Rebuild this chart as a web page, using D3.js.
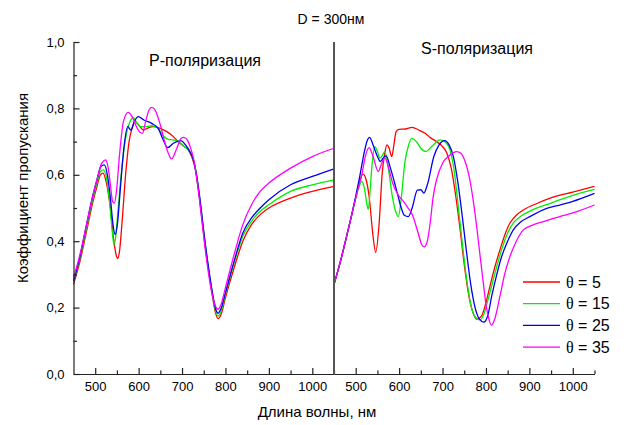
<!DOCTYPE html>
<html>
<head>
<meta charset="utf-8">
<script src="https://cdn.jsdelivr.net/npm/d3@7"></script>
<style>
  body { margin: 0; background: #fff; }
  text { font-family: "Liberation Sans", Arial, sans-serif; fill: #000; }
</style>
</head>
<body>
<div id="chart"></div>
<script>
// ---- Daten (λ in nm, Koeffizient) ----
const angles = [5, 15, 25, 35];
const colors = ["#ff0000", "#00ee00", "#0000ee", "#ff00ff"];
const xMajor = [500, 600, 700, 800, 900, 1000];
const xMinor = [550, 650, 750, 850, 950, 1050];
const yMajor = [0, 0.2, 0.4, 0.6, 0.8, 1.0];
const yMinor = [0.1, 0.3, 0.5, 0.7, 0.9];

// P-Polarisation
const pRed = [[450,.27],[465,.34],[480,.43],[495,.52],[505,.57],[512,.60],[518,.605],[525,.58],[535,.50],[543,.40],[548,.36],[552,.348],[556,.37],[562,.46],[570,.60],[578,.70],[585,.74],[592,.76],[600,.75],[611,.735],[620,.74],[634,.745],[650,.74],[665,.73],[680,.715],[691,.70],[705,.685],[714,.675],[722,.655],[730,.62],[740,.53],[750,.42],[760,.32],[770,.235],[777,.185],[783,.167],[790,.18],[800,.23],[820,.32],[840,.40],[860,.45],[880,.48],[900,.50],[950,.53],[1000,.55],[1050,.565]];
const pGreen = [[450,.28],[465,.35],[480,.44],[495,.53],[505,.58],[512,.61],[519,.615],[526,.59],[533,.52],[540,.42],[543,.39],[547,.41],[553,.50],[562,.63],[570,.71],[580,.76],[588,.772],[596,.755],[605,.745],[618,.745],[630,.748],[645,.74],[655,.72],[668,.707],[680,.705],[692,.70],[705,.685],[715,.675],[722,.66],[730,.625],[740,.535],[750,.425],[760,.325],[770,.24],[777,.19],[783,.175],[790,.19],[800,.24],[820,.335],[840,.415],[860,.46],[880,.49],[900,.51],[950,.55],[1000,.57],[1050,.585]];
const pBlue = [[450,.28],[465,.355],[480,.45],[495,.54],[505,.59],[513,.625],[521,.63],[528,.60],[535,.53],[541,.45],[546,.42],[551,.45],[558,.56],[566,.68],[575,.745],[582,.735],[590,.76],[599,.775],[612,.765],[630,.755],[645,.74],[655,.71],[667,.682],[680,.695],[697,.703],[708,.69],[718,.67],[725,.65],[732,.61],[742,.52],[750,.43],[760,.33],[770,.245],[777,.198],[783,.183],[790,.198],[800,.245],[820,.34],[840,.425],[860,.47],[880,.50],[900,.525],[950,.57],[1000,.595],[1050,.618]];
const pMagenta = [[450,.29],[465,.36],[480,.45],[495,.54],[505,.59],[515,.635],[524,.645],[530,.62],[535,.57],[540,.52],[544,.515],[549,.55],[556,.66],[565,.76],[576,.788],[585,.775],[595,.745],[603,.728],[609,.725],[616,.76],[624,.795],[630,.803],[638,.795],[650,.75],[662,.69],[676,.648],[688,.68],[698,.71],[704,.713],[712,.705],[720,.68],[728,.64],[735,.58],[745,.47],[755,.36],[765,.27],[773,.22],[783,.195],[790,.21],[800,.26],[820,.36],[840,.45],[860,.51],[880,.55],[900,.575],[950,.62],[1000,.655],[1050,.68]];

// S-Polarisation
const sRed = [[450,.27],[465,.34],[480,.42],[490,.475],[500,.53],[510,.585],[517,.602],[524,.585],[531,.534],[540,.414],[546,.366],[554,.454],[561,.604],[567,.665],[572,.69],[577,.68],[583,.655],[588,.69],[593,.73],[600,.737],[615,.738],[630,.743],[645,.735],[660,.725],[672,.712],[686,.70],[700,.685],[710,.665],[720,.62],[730,.54],[740,.44],[750,.33],[760,.24],[770,.185],[779,.165],[790,.175],[800,.215],[809,.263],[820,.32],[832,.373],[845,.425],[855,.454],[870,.478],[886,.494],[920,.515],[960,.535],[1000,.548],[1050,.565]];
const sGreen = [[450,.27],[465,.34],[480,.42],[490,.475],[500,.53],[508,.565],[514,.58],[520,.56],[526,.51],[529,.496],[533,.55],[537,.62],[544,.685],[550,.67],[556,.65],[562,.66],[567,.67],[575,.62],[585,.53],[592,.49],[598,.474],[605,.53],[613,.635],[622,.69],[629,.71],[640,.70],[650,.68],[662,.67],[675,.685],[694,.705],[705,.70],[717,.675],[727,.61],[735,.52],[745,.40],[755,.29],[765,.21],[775,.172],[786,.163],[795,.18],[805,.225],[820,.30],[835,.37],[850,.425],[865,.458],[880,.475],[900,.49],[950,.515],[1000,.538],[1050,.556]];
const sBlue = [[450,.27],[465,.34],[480,.42],[490,.475],[500,.535],[510,.60],[520,.67],[527,.705],[532,.713],[540,.69],[550,.655],[557,.64],[563,.65],[570,.657],[580,.62],[594,.554],[605,.50],[612,.478],[621,.474],[630,.50],[642,.554],[650,.555],[657,.545],[665,.57],[680,.655],[692,.69],[705,.703],[715,.69],[725,.655],[735,.58],[745,.48],[755,.37],[765,.27],[775,.20],[785,.165],[795,.156],[805,.18],[813,.233],[825,.30],[836,.353],[850,.40],[863,.434],[880,.458],[901,.474],[940,.499],[970,.509],[1000,.52],[1050,.544]];
const sMagenta = [[450,.27],[465,.34],[480,.42],[490,.475],[500,.53],[507,.565],[514,.60],[522,.655],[531,.682],[540,.655],[552,.61],[560,.635],[567,.652],[575,.625],[585,.575],[598,.539],[610,.52],[621,.499],[629,.484],[644,.424],[652,.39],[658,.383],[665,.40],[672,.46],[678,.53],[686,.584],[700,.635],[713,.655],[725,.667],[733,.67],[742,.665],[752,.64],[763,.584],[771,.52],[779,.44],[787,.35],[794,.273],[800,.21],[806,.17],[813,.147],[820,.165],[832,.233],[843,.30],[855,.353],[870,.40],[886,.434],[910,.45],[932,.459],[970,.474],[1000,.485],[1050,.509]];

const pSeries = [pRed, pGreen, pBlue, pMagenta];
const sSeries = [sRed, sGreen, sBlue, sMagenta];

// ---- Aufbau ----
const width = 627, height = 425;
const yTop = 42, yBottom = 374;
const xLeft = 73.5, xMid = 334, xRight = 594.5;

const svg = d3.select("#chart").append("svg")
  .attr("width", width)
  .attr("height", height);

const y = d3.scaleLinear().domain([0, 1]).range([yBottom, yTop]);
const xP = d3.scaleLinear().domain([450, 1050]).range([xLeft, xMid]);
const xS = d3.scaleLinear().domain([450, 1050]).range([xMid, xRight]);

// Kurven
function drawPanel(x, series) {
  const line = d3.line()
    .x(d => x(d[0]))
    .y(d => y(d[1]))
    .curve(d3.curveMonotoneX);
  svg.append("g")
    .selectAll("path")
    .data(series)
    .join("path")
      .attr("d", line)
      .attr("fill", "none")
      .attr("stroke", (d, i) => colors[i])
      .attr("stroke-width", 1.3);
}
drawPanel(xP, pSeries);
drawPanel(xS, sSeries);

// X-Achsen (Ticks nach innen)
[xP, xS].forEach(x => {
  const g = svg.append("g")
    .attr("transform", `translate(0,${yBottom})`)
    .call(d3.axisBottom(x).tickValues(xMajor).tickSize(-6).tickSizeOuter(0).tickPadding(8)
      .tickFormat(d3.format("d")));
  g.selectAll("text").style("font-size", "13px").style("font-family", "Liberation Sans, Arial, sans-serif");
  svg.append("g")
    .attr("transform", `translate(0,${yBottom})`)
    .call(d3.axisBottom(x).tickValues(xMinor).tickSize(-3.5).tickFormat(""))
    .call(a => a.select(".domain").remove());
});

// Y-Achse
const gy = svg.append("g")
  .attr("transform", `translate(${xLeft},0)`)
  .call(d3.axisLeft(y).tickValues(yMajor).tickSize(-6).tickSizeOuter(0).tickPadding(9)
    .tickFormat(d => d3.format(".1f")(d).replace(".", ",")));
gy.selectAll("text").style("font-size", "13px").style("font-family", "Liberation Sans, Arial, sans-serif");
svg.append("g")
  .attr("transform", `translate(${xLeft},0)`)
  .call(d3.axisLeft(y).tickValues(yMinor).tickSize(-3.5).tickFormat(""))
  .call(a => a.select(".domain").remove());

svg.selectAll(".domain, .tick line").attr("stroke", "#222").attr("stroke-width", 1.2);

// Trennlinie zwischen P und S
svg.append("line")
  .attr("x1", xMid).attr("x2", xMid)
  .attr("y1", yTop).attr("y2", yBottom)
  .attr("stroke", "#555")
  .attr("stroke-width", 2);

// Beschriftungen
svg.append("text").attr("x", 331).attr("y", 24)
  .attr("text-anchor", "middle").style("font-size", "14px").text("D = 300нм");
svg.append("text").attr("x", 205).attr("y", 66)
  .attr("text-anchor", "middle").style("font-size", "16px").text("P-поляризация");
svg.append("text").attr("x", 477).attr("y", 54)
  .attr("text-anchor", "middle").style("font-size", "16px").text("S-поляризация");
svg.append("text").attr("x", 317).attr("y", 417)
  .attr("text-anchor", "middle").style("font-size", "15px").text("Длина волны, нм");
svg.append("text")
  .attr("transform", "translate(28,188) rotate(-90)")
  .attr("text-anchor", "middle").style("font-size", "15px").text("Коэффициент пропускания");

// Legende
const legend = svg.append("g");
angles.forEach((a, i) => {
  const ly = 282 + i * 21.7;
  legend.append("line")
    .attr("x1", 523).attr("x2", 560).attr("y1", ly).attr("y2", ly)
    .attr("stroke", colors[i]).attr("stroke-width", 1.3);
  const t = legend.append("text").attr("x", 566).attr("y", ly + 5.5).style("font-size", "16px");
  t.append("tspan").style("font-family", "Liberation Serif, Times New Roman, serif").text("θ");
  t.append("tspan").text(" = " + a);
});
</script>
</body>
</html>
